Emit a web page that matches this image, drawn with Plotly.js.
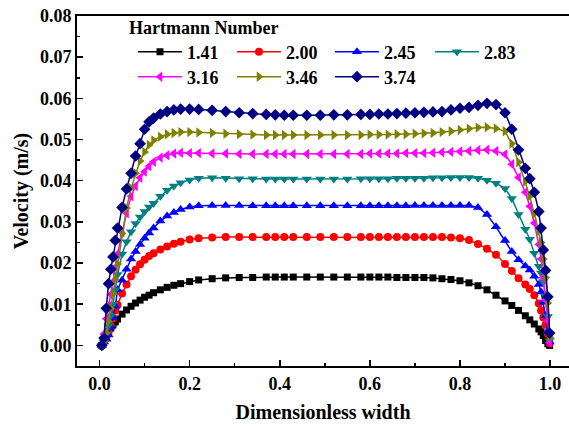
<!DOCTYPE html>
<html>
<head>
<meta charset="utf-8">
<script src="https://cdn.plot.ly/plotly-3.0.1.min.js"></script>
<style>html,body{margin:0;padding:0;background:#fff;}#chart{width:569px;height:428px;}</style>
</head>
<body>
<div id="chart"></div>
<script>
const xWidth = [0.005,0.01,0.015,0.02,0.025,0.03,0.035,0.04,0.05,0.06,0.07,0.08,0.09,0.10,0.11,0.12,0.135,0.15,0.165,0.18,
  0.20,0.22,0.25,0.28,0.31,0.34,0.37,0.39,0.41,0.43,0.46,0.49,0.52,0.55,0.58,0.60,0.62,0.64,0.66,0.68,
  0.70,0.72,0.74,0.76,0.78,0.80,0.82,0.84,0.86,0.88,0.90,0.915,0.93,0.945,0.955,0.965,0.975,0.98,0.985,0.99,0.995,0.999];

const seriesNames = ['1.41','2.00','2.45','2.83','3.16','3.46','3.74'];
const legendTitle = 'Hartmann Number';

const vHa141 = [0,0.0012,0.0024,0.0033,0.0042,0.005,0.0057,0.0064,0.0076,0.0086,0.0095,0.0103,0.011,0.0117,0.0122,0.0128,0.0135,0.0141,0.0146,0.015,
  0.0155,0.0159,0.0162,0.0164,0.0165,0.0165,0.0166,0.0166,0.0166,0.0166,
  0.0166,0.0166,0.0166,0.0166,0.0166,0.0166,0.0166,0.0166,0.0165,0.0165,
  0.0165,0.0165,0.0164,0.0162,0.016,0.0157,0.0152,0.0145,0.0135,0.0122,
  0.0108,0.0097,0.0085,0.0072,0.0062,0.0052,0.004,0.0033,0.0024,0.0012,0.0004,0];

const vHa200 = [0,0.0008,0.0018,0.003,0.0048,0.0066,0.0085,0.0098,0.0126,0.0148,0.0168,0.0184,0.0197,0.0208,0.0217,0.0224,0.0233,0.024,0.0247,0.0252,
  0.0257,0.026,0.0262,0.0263,0.0263,0.0263,0.0263,0.0263,0.0263,0.0263,
  0.0263,0.0263,0.0263,0.0263,0.0263,0.0263,0.0263,0.0263,0.0263,0.0263,
  0.0263,0.0263,0.0263,0.0263,0.0262,0.026,0.0256,0.0246,0.0235,0.022,
  0.0198,0.0181,0.0163,0.0148,0.0137,0.0122,0.0102,0.0085,0.0068,0.005,0.0028,0.0005];

const vHa245 = [0,0.0008,0.0015,0.0025,0.0045,0.0068,0.0095,0.0135,0.0158,0.0185,0.021,0.0228,0.0245,0.026,0.0273,0.0285,0.0302,0.0314,0.0323,0.033,
  0.0336,0.0339,0.034,0.034,0.034,0.0339,0.0339,0.0339,0.0339,0.0339,
  0.0339,0.0339,0.0339,0.0339,0.0339,0.0339,0.0339,0.0339,0.0339,0.0339,
  0.034,0.034,0.034,0.034,0.034,0.034,0.034,0.0335,0.0318,0.0288,
  0.0255,0.0228,0.0208,0.0193,0.0183,0.0168,0.0148,0.013,0.0105,0.0072,0.0035,0.0008];

const vHa283 = [0,0.0008,0.0028,0.0048,0.0072,0.01,0.0135,0.0172,0.0222,0.0252,0.0276,0.0296,0.0312,0.0325,0.0336,0.0345,0.0362,0.0377,0.0387,0.0395,
  0.0402,0.0406,0.0407,0.0406,0.0405,0.0405,0.0404,0.0404,0.0404,0.0404,
  0.0404,0.0404,0.0404,0.0404,0.0405,0.0405,0.0405,0.0405,0.0406,0.0406,
  0.0406,0.0406,0.0407,0.0407,0.0408,0.0408,0.0408,0.0406,0.0401,0.0394,
  0.0381,0.0357,0.0318,0.0282,0.0258,0.0224,0.0192,0.0176,0.0155,0.012,0.007,0.0012];

const vHa316 = [0,0.0028,0.0065,0.0095,0.0124,0.0155,0.019,0.0222,0.0275,0.0321,0.0362,0.0387,0.0407,0.0422,0.0435,0.0446,0.0456,0.0462,0.0466,0.0468,
  0.0467,0.0467,0.0466,0.0466,0.0465,0.0465,0.0465,0.0465,0.0465,0.0465,
  0.0465,0.0465,0.0465,0.0465,0.0465,0.0466,0.0466,0.0466,0.0466,0.0467,
  0.0467,0.0467,0.0468,0.0469,0.047,0.0471,0.0472,0.0474,0.0475,0.0472,
  0.0464,0.044,0.0408,0.0372,0.0338,0.0297,0.0245,0.021,0.0165,0.011,0.006,0.0007];

const vHa346 = [0,0.0008,0.003,0.0058,0.009,0.0125,0.016,0.0198,0.0272,0.0334,0.0382,0.0418,0.0448,0.047,0.0487,0.0498,0.0507,0.0513,0.0516,0.0518,
  0.0518,0.0517,0.0516,0.0514,0.0513,0.0512,0.0511,0.0511,0.0511,0.0511,
  0.0511,0.0511,0.0511,0.0511,0.0511,0.0512,0.0512,0.0512,0.0513,0.0513,
  0.0514,0.0515,0.0516,0.0518,0.052,0.0523,0.0526,0.0529,0.053,0.0527,
  0.052,0.049,0.0445,0.0398,0.0362,0.032,0.0278,0.025,0.021,0.0165,0.0103,0.002];

const vHa374 = [0,0.0018,0.009,0.015,0.0185,0.0215,0.0255,0.0285,0.0335,0.038,0.0418,0.046,0.049,0.0525,0.0543,0.0552,0.0562,0.0568,0.0572,0.0574,
  0.0574,0.0573,0.0571,0.0568,0.0565,0.0563,0.0561,0.056,0.0559,0.0559,
  0.0559,0.0559,0.056,0.056,0.0561,0.0561,0.0562,0.0562,0.0563,0.0564,
  0.0565,0.0566,0.0567,0.0568,0.0572,0.0576,0.0578,0.0583,0.0588,0.0585,
  0.0565,0.0525,0.0475,0.043,0.0405,0.0372,0.0325,0.0285,0.0232,0.0182,0.0118,0.003];

const seriesValues = [vHa141, vHa200, vHa245, vHa283, vHa316, vHa346, vHa374];
const seriesColors = ['#000000','#ff0000','#0000ff','#008080','#ff00ff','#808000','#000080'];
const seriesSymbols = ['square','circle','triangle-up','triangle-down','triangle-left','triangle-right','diamond'];
const seriesSizes = [7,8,9,9,9,9,9];

const FONT = 'Liberation Serif, Times New Roman, serif';

// legend slot for each series: columns and rows as in the original
const legendIds = ['legend','legend2','legend3','legend4','legend5','legend6','legend7'];
const legendX = [0.1138, 0.3150, 0.5142, 0.7175, 0.1138, 0.3150, 0.5142];
const legendY = [0.8971, 0.8971, 0.8971, 0.8971, 0.8257, 0.8257, 0.8257];

const traces = seriesNames.map((n, i) => ({
  x: xWidth,
  y: seriesValues[i],
  name: n,
  type: 'scatter',
  mode: 'lines+markers',
  line: {color: seriesColors[i], width: 1.5},
  marker: {color: seriesColors[i], symbol: seriesSymbols[i], size: seriesSizes[i], line: {width: 0}},
  legend: legendIds[i]
}));

const layout = {
  width: 569, height: 428,
  margin: {l: 77, r: 0, t: 16, b: 62},
  paper_bgcolor: '#fff', plot_bgcolor: '#fff',
  font: {family: FONT, size: 18, color: '#000', weight: 'bold'},
  xaxis: {
    range: [-0.05, 1.042],
    tickmode: 'linear', tick0: 0, dtick: 0.2, tickformat: '.1f',
    ticks: 'inside', ticklen: 6, tickwidth: 1.5, tickcolor: '#000',
    minor: {ticks: 'inside', ticklen: 3, tickwidth: 1.5, dtick: 0.1, tick0: 0, tickcolor: '#000'},
    showline: true, linewidth: 2, linecolor: '#000', mirror: true,
    showgrid: false, zeroline: false,
    tickfont: {family: FONT, size: 18, weight: 'bold', color: '#000'},
    title: {text: 'Dimensionless width', font: {family: FONT, size: 20, weight: 'bold', color: '#000'}, standoff: 12}
  },
  yaxis: {
    range: [-0.005, 0.08],
    tickmode: 'linear', tick0: 0, dtick: 0.01, tickformat: '.2f',
    ticks: 'inside', ticklen: 6, tickwidth: 1.5, tickcolor: '#000',
    minor: {ticks: 'inside', ticklen: 3, tickwidth: 1.5, dtick: 0.005, tick0: 0, tickcolor: '#000'},
    showline: true, linewidth: 2, linecolor: '#000', mirror: true,
    showgrid: false, zeroline: false,
    tickfont: {family: FONT, size: 18, weight: 'bold', color: '#000'},
    title: {text: 'Velocity (m/s)', font: {family: FONT, size: 20, weight: 'bold', color: '#000'}, standoff: 6}
  },
  showlegend: true,
  annotations: [{
    xref: 'paper', yref: 'paper', x: 0.1016, y: 0.9657, xanchor: 'left', yanchor: 'middle',
    text: legendTitle, showarrow: false,
    font: {family: FONT, size: 18, weight: 'bold', color: '#000'}
  }]
};

legendIds.forEach((id, i) => {
  layout[id] = {
    orientation: 'v',
    x: legendX[i], y: legendY[i],
    xanchor: 'left', yanchor: 'middle',
    bgcolor: 'rgba(0,0,0,0)', borderwidth: 0,
    font: {family: FONT, size: 18, weight: 'bold', color: '#000'},
    itemwidth: 44,
    itemclick: false
  };
});

Plotly.newPlot('chart', traces, layout, {displayModeBar: false, staticPlot: true});
</script>
</body>
</html>
